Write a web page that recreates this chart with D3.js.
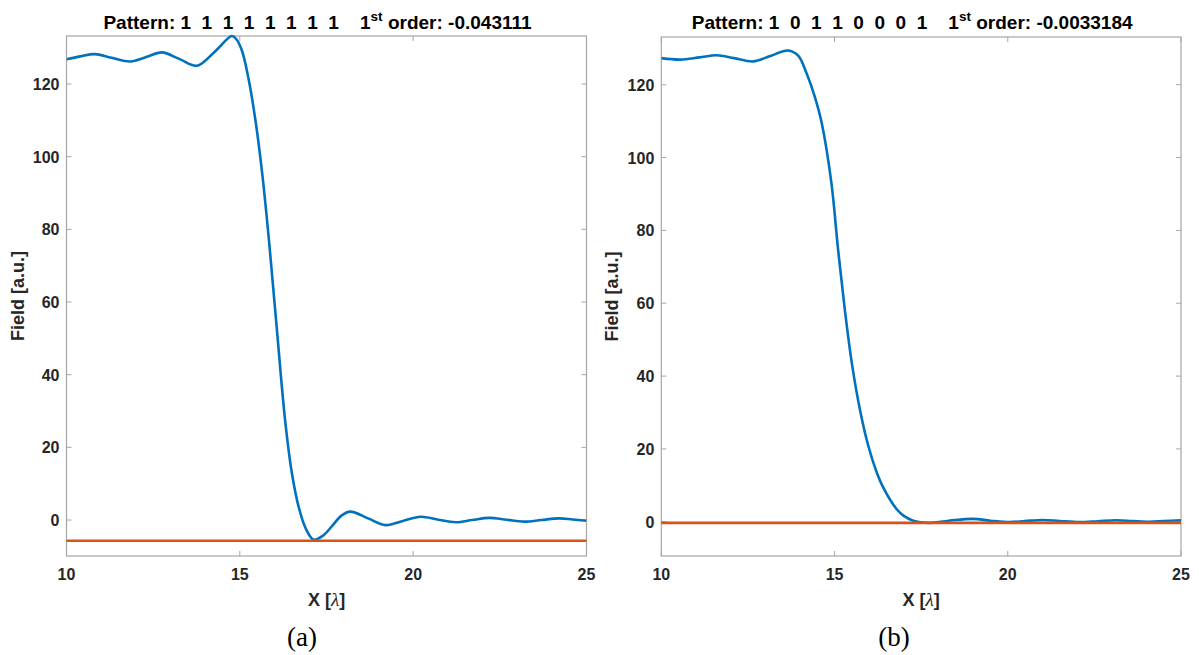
<!DOCTYPE html>
<html>
<head>
<meta charset="utf-8">
<script src="https://cdn.jsdelivr.net/npm/d3@7"></script>
<style>
  body { margin: 0; background: #fff; }
</style>
</head>
<body>
<div id="chart"></div>
<script>
// panel (a): pattern 1 1 1 1 1 1 1 1
const xA = [10, 10.4, 10.82, 11.3, 11.84, 12.3, 12.75, 13.25, 13.76, 14.3, 14.77, 14.9, 15.06, 15.25, 15.45, 15.65, 15.85, 16.07, 16.3, 16.5, 16.7, 16.9, 17.13, 17.4, 17.67, 17.93, 18.19, 18.7, 19.2, 19.7, 20.22, 20.7, 21.23, 21.7, 22.19, 22.7, 23.2, 23.7, 24.21, 24.6, 25];
const fieldA = [126.8, 127.6, 128.2, 127.2, 126.2, 127.4, 128.7, 126.9, 125.0, 129.1, 133.2, 132.3, 129.2, 121.5, 110, 95, 76, 52.3, 28, 13, 3.5, -2.3, -5.4, -4.3, -1.55, 1.2, 2.3, 0.45, -1.4, -0.25, 0.9, 0.15, -0.6, 0, 0.6, 0.08, -0.45, 0, 0.45, 0.15, -0.2];
const orderA = -5.7;

// panel (b): pattern 1 0 1 1 0 0 0 1
const xB = [10, 10.54, 11.1, 11.6, 12.1, 12.65, 13.15, 13.66, 13.95, 14.19, 14.42, 14.63, 14.91, 15.1, 15.3, 15.5, 15.75, 15.97, 16.2, 16.4, 16.79, 17.0, 17.27, 17.7, 18.3, 19.0, 19.5, 20.06, 20.5, 21.02, 21.5, 22.08, 22.6, 23.13, 23.6, 24.1, 24.5, 25];
const fieldB = [127.3, 126.9, 127.5, 128.1, 127.3, 126.4, 127.9, 129.4, 128, 123.2, 117, 109.5, 93, 75, 58, 43.5, 30, 21, 14, 9.5, 3.5, 1.6, 0.3, -0.3, 0.3, 0.8, 0.3, -0.1, 0.2, 0.5, 0.2, -0.1, 0.15, 0.4, 0.2, 0, 0.2, 0.4];
const orderB = -0.3;

const xTicks = [10, 15, 20, 25];
const yTicks = [0, 20, 40, 60, 80, 100, 120];

const panels = [
  {left: 66.5, right: 586.5, top: 36, bottom: 556, ylim: [-9.9, 133.2], x: xA, y: fieldA, order: orderA,
   bits: "1  1  1  1  1  1  1  1", val: "-0.043111", tag: "(a)", tagX: 302},
  {left: 661.3, right: 1181, top: 37, bottom: 556, ylim: [-9.4, 133.1], x: xB, y: fieldB, order: orderB,
   bits: "1  0  1  1  0  0  0  1", val: "-0.0033184", tag: "(b)", tagX: 894}
];

const sans = "'Liberation Sans', Arial, sans-serif";
const serif = "'Liberation Serif', 'Times New Roman', serif";

const svg = d3.select("#chart").append("svg")
  .attr("width", 1199).attr("height", 655)
  .style("font-family", sans);

panels.forEach(function(p) {
  const x = d3.scaleLinear().domain([10, 25]).range([p.left, p.right]);
  const y = d3.scaleLinear().domain(p.ylim).range([p.bottom, p.top]);
  const g = svg.append("g");

  // box
  g.append("rect")
   .attr("x", p.left).attr("y", p.top)
   .attr("width", p.right - p.left).attr("height", p.bottom - p.top)
   .attr("fill", "none").attr("stroke", "#a6a6a6").attr("stroke-width", 1.2);

  const tl = 5;
  xTicks.forEach(function(t) {
    g.append("line").attr("x1", x(t)).attr("x2", x(t)).attr("y1", p.bottom).attr("y2", p.bottom - tl)
     .attr("stroke", "#a6a6a6");
    g.append("line").attr("x1", x(t)).attr("x2", x(t)).attr("y1", p.top).attr("y2", p.top + tl)
     .attr("stroke", "#a6a6a6");
    g.append("text").attr("x", x(t)).attr("y", p.bottom + 24)
     .attr("text-anchor", "middle").attr("font-size", 16).attr("font-weight", "bold")
     .attr("fill", "#262626").text(t);
  });
  yTicks.forEach(function(t) {
    g.append("line").attr("y1", y(t)).attr("y2", y(t)).attr("x1", p.left).attr("x2", p.left + tl)
     .attr("stroke", "#a6a6a6");
    g.append("line").attr("y1", y(t)).attr("y2", y(t)).attr("x1", p.right).attr("x2", p.right - tl)
     .attr("stroke", "#a6a6a6");
    g.append("text").attr("x", p.left - 7).attr("y", y(t) + 6)
     .attr("text-anchor", "end").attr("font-size", 16).attr("font-weight", "bold")
     .attr("fill", "#262626").text(t);
  });

  const clipId = "clip" + p.tag.replace(/\W/g, "");
  svg.append("clipPath").attr("id", clipId).append("rect")
    .attr("x", p.left).attr("y", p.top - 2).attr("width", p.right - p.left).attr("height", p.bottom - p.top + 2);

  const pts = p.x.map((v, i) => [v, p.y[i]]);
  const line = d3.line().x(d => x(d[0])).y(d => y(d[1])).curve(d3.curveCatmullRom.alpha(0.5));

  g.append("path").datum(pts).attr("d", line)
   .attr("fill", "none").attr("stroke", "#0072BD").attr("stroke-width", 2.6)
   .attr("clip-path", "url(#" + clipId + ")");

  g.append("line").attr("x1", x(10)).attr("x2", x(25)).attr("y1", y(p.order)).attr("y2", y(p.order))
   .attr("stroke", "#D95319").attr("stroke-width", 2.6);

  // title
  const cx = (p.left + p.right) / 2;
  const title = g.append("text").attr("x", cx - 9).attr("y", 29).attr("text-anchor", "middle")
    .attr("font-size", 19).attr("font-weight", "bold").attr("fill", "#000")
    .style("white-space", "pre");
  title.append("tspan").text("Pattern: " + p.bits + "    1");
  title.append("tspan").attr("font-size", 13.5).attr("dy", -8).text("st");
  title.append("tspan").attr("dy", 8).text(" order: " + p.val);

  // axis labels
  const xl = g.append("text").attr("x", cx).attr("y", 606).attr("text-anchor", "middle")
    .attr("font-size", 18).attr("font-weight", "bold").attr("fill", "#262626")
    .style("white-space", "pre");
  xl.append("tspan").text("X [");
  xl.append("tspan").attr("font-weight", "normal").style("font-style", "italic")
    .style("font-family", serif).attr("font-size", 19).text("λ");
  xl.append("tspan").text("]");

  g.append("text").attr("transform", "translate(" + (p.left - 43) + "," + ((p.top + p.bottom) / 2) + ") rotate(-90)")
   .attr("text-anchor", "middle").attr("font-size", 18).attr("font-weight", "bold").attr("fill", "#262626")
   .text("Field [a.u.]");

  g.append("text").attr("x", p.tagX).attr("y", 646).attr("text-anchor", "middle")
   .style("font-family", serif).attr("font-size", 27).attr("fill", "#000")
   .text(p.tag);
});
</script>
</body>
</html>
